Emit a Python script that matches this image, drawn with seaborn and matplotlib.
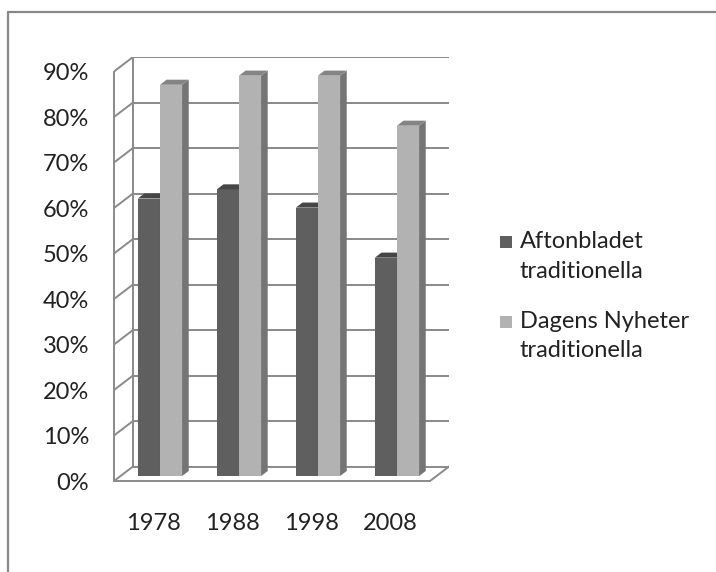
import numpy as np
import pandas as pd
import matplotlib
matplotlib.use('Agg')
import matplotlib.pyplot as plt
from matplotlib.patches import Polygon, Rectangle
from matplotlib.lines import Line2D
import seaborn as sns

# data
years = ['1978', '1988', '1998', '2008']
aftonbladet = [61, 63, 59, 48]
dagens_nyheter = [86, 88, 88, 77]
series_names = ['Aftonbladet traditionella', 'Dagens Nyheter traditionella']
legend_lines = [['Aftonbladet', 'traditionella'], ['Dagens Nyheter', 'traditionella']]
y_ticks = [0, 10, 20, 30, 40, 50, 60, 70, 80, 90]
colors = ['#5f5f5f', '#b2b2b2']
grid_color = '#8a8a8a'

df = pd.DataFrame({
    'year': years * 2,
    'value': aftonbladet + dagens_nyheter,
    'series': [series_names[0]] * len(years) + [series_names[1]] * len(years),
})

sns.set_style('white')
plt.rcParams['font.family'] = ['Lato', 'DejaVu Sans']

W, H = 716, 572
fig = plt.figure(figsize=(W / 100, H / 100), dpi=100)

# 3D look: depth of the walls in data units
DX = 19 / 79          # categories
DY = 14.5 / 4.55      # percent
front_px, right_px = 114, 449
y0_px = 481
ax = fig.add_axes([front_px / W, 1 - y0_px / H, (right_px - front_px) / W, (90 + DY) * 4.55 / H])

sns.barplot(data=df, x='year', y='value', hue='series', palette=colors, width=0.56,
            saturation=1, linewidth=0, legend=False, ax=ax)

# back wall and left wall
lw = 1.4
for v in y_ticks:
    ax.add_line(Line2D([-0.5 + DX, 3.5 + DX], [v + DY, v + DY], color=grid_color, lw=lw, zorder=0.5))
    ax.add_line(Line2D([-0.5, -0.5 + DX], [v, v + DY], color=grid_color, lw=lw, zorder=0.5))
ax.add_line(Line2D([-0.5 + DX, -0.5 + DX], [DY, 90 + DY], color=grid_color, lw=lw, zorder=0.5))
ax.add_line(Line2D([3.5, 3.5 + DX], [0, DY], color=grid_color, lw=lw, zorder=0.5))

# give the bars depth
f0, fd = 0.34, 0.35
for i, cont in enumerate(ax.containers):
    for bar in cont:
        x0 = bar.get_x() + f0 * DX
        w = bar.get_width()
        h = bar.get_height()
        b = f0 * DY
        bar.set_x(x0)
        bar.set_y(b)
        bar.set_zorder(2 + i)
        fc = np.array(bar.get_facecolor()[:3])
        x1 = x0 + w
        ddx, ddy = fd * DX, fd * DY
        side = Polygon([(x1, b), (x1 + ddx, b + ddy), (x1 + ddx, b + h + ddy), (x1, b + h)],
                       closed=True, facecolor=fc * 0.66, edgecolor='none', zorder=2 + i)
        top = Polygon([(x0, b + h), (x1, b + h), (x1 + ddx, b + h + ddy), (x0 + ddx, b + h + ddy)],
                      closed=True, facecolor=fc * 0.74, edgecolor='none', zorder=2 + i)
        ax.add_patch(side)
        ax.add_patch(top)

ax.set_xlim(-0.5, 3.5 + DX)
ax.set_ylim(0, 90 + DY)
ax.set_xlabel('')
ax.set_ylabel('')

for s in ['top', 'right']:
    ax.spines[s].set_visible(False)
ax.spines['left'].set_bounds(0, 90)
ax.spines['bottom'].set_bounds(-0.5, 3.5)
for s in ['left', 'bottom']:
    ax.spines[s].set_color(grid_color)
    ax.spines[s].set_linewidth(lw)

text_color = '#222222'
ax.set_yticks(y_ticks)
ax.set_yticklabels([f'{v}%' for v in y_ticks])
ax.set_xticks(np.arange(-0.5, 4.0, 1.0))
ax.set_xticklabels([])
ax.set_xticks(range(len(years)), minor=True)
ax.set_xticklabels(years, minor=True)
ax.tick_params(axis='y', which='major', length=7.2, width=lw, color=grid_color, pad=10.8,
               labelsize=17, labelcolor=text_color, direction='out')
ax.tick_params(axis='x', which='major', length=5.8, width=lw, color=grid_color, direction='out')
ax.tick_params(axis='x', which='minor', length=0, pad=23, labelsize=17, labelcolor=text_color)
ax.patch.set_visible(False)

# legend, drawn like the spreadsheet one (marker beside the first line)
leg_x, sq = 500, 12
baselines = [[248, 278], [328, 357]]
for k, lines in enumerate(legend_lines):
    top_px = baselines[k][0] - 12
    fig.patches.append(Rectangle((leg_x / W, 1 - (top_px + sq) / H), sq / W, sq / H,
                                 transform=fig.transFigure, facecolor=colors[k], edgecolor='none'))
    for j, txt in enumerate(lines):
        fig.text(520 / W, 1 - baselines[k][j] / H, txt, fontsize=17, color=text_color,
                 va='baseline', ha='left')

# outer frame (only the top and left edges are visible)
fig.add_artist(Line2D([8 / W, 1], [1 - 12 / H, 1 - 12 / H], transform=fig.transFigure,
                      color='#888888', lw=1.6))
fig.add_artist(Line2D([8 / W, 8 / W], [0, 1 - 12 / H], transform=fig.transFigure,
                      color='#888888', lw=1.6))

fig.savefig('out.png', dpi=100, facecolor='white')
